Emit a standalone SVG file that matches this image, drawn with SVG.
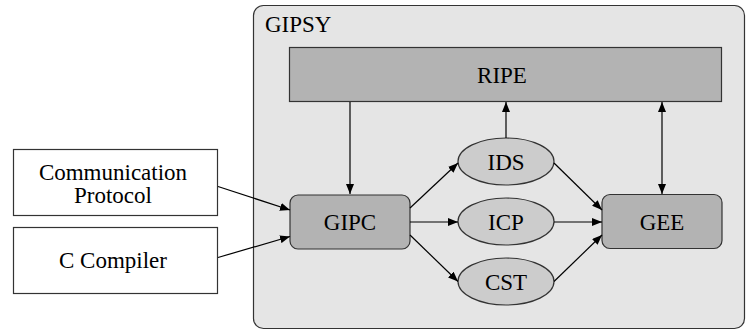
<svg xmlns="http://www.w3.org/2000/svg" width="748" height="331" viewBox="0 0 748 331">
<defs>
<marker id="ah" viewBox="0 0 10 8" refX="10" refY="4" markerWidth="10" markerHeight="8" markerUnits="userSpaceOnUse" orient="auto-start-reverse">
<path d="M0,0 L10,4 L0,8 z" fill="#000"/>
</marker>
<style>
.t{font-family:"Liberation Serif","Times New Roman",Times,Tinos,"Noto Serif","DejaVu Serif",serif;font-size:23px;fill:#000;text-anchor:middle}
.box{fill:#b3b3b3;stroke:#333;stroke-width:1.2}
.ell{fill:#cccccc;stroke:#333;stroke-width:1.2}
.ext{fill:#fff;stroke:#333;stroke-width:1.2}
.c{stroke:#000;stroke-width:1.2;fill:none;marker-end:url(#ah)}
</style>
</defs>
<g id="gipsy">
<rect x="253.5" y="5.5" width="491" height="323" rx="10" fill="#e5e5e5" stroke="#333" stroke-width="1.2"/>
<text class="t" x="265" y="32" style="text-anchor:start">GIPSY</text>
</g>
<g id="ripe">
<rect class="box" x="289.5" y="47.5" width="432" height="54"/>
<text class="t" x="502" y="83">RIPE</text>
</g>
<g id="commproto">
<rect class="ext" x="13.5" y="149.5" width="204" height="66"/>
<text class="t" x="113" y="180">Communication</text>
<text class="t" x="113" y="203">Protocol</text>
</g>
<g id="ccompiler">
<rect class="ext" x="13.5" y="227.5" width="204" height="66"/>
<text class="t" x="113" y="268">C Compiler</text>
</g>
<g id="gipc">
<rect class="box" x="290" y="195" width="120" height="54" rx="8"/>
<text class="t" x="350" y="230">GIPC</text>
</g>
<g id="ids">
<ellipse class="ell" cx="506" cy="161.5" rx="48" ry="23.5"/>
<text class="t" x="506" y="170">IDS</text>
</g>
<g id="icp">
<ellipse class="ell" cx="506" cy="221.5" rx="48" ry="23.5"/>
<text class="t" x="506" y="230">ICP</text>
</g>
<g id="cst">
<ellipse class="ell" cx="506" cy="281.5" rx="48" ry="23.5"/>
<text class="t" x="506" y="290">CST</text>
</g>
<g id="gee">
<rect class="box" x="602" y="194.5" width="120" height="54" rx="8"/>
<text class="t" x="662" y="230">GEE</text>
</g>
<g id="connectors">
<line class="c" x1="350" y1="102" x2="350" y2="194"/>
<line class="c" x1="506" y1="138" x2="506" y2="102"/>
<line class="c" x1="662" y1="102" x2="662" y2="194" style="marker-start:url(#ah)"/>
<line class="c" x1="218" y1="186.5" x2="290" y2="210"/>
<line class="c" x1="218" y1="257.5" x2="290" y2="236.5"/>
<line class="c" x1="410" y1="208" x2="458" y2="163"/>
<line class="c" x1="410" y1="222" x2="458" y2="222"/>
<line class="c" x1="410" y1="235" x2="458" y2="281.5"/>
<line class="c" x1="554" y1="163" x2="602" y2="210"/>
<line class="c" x1="554" y1="222" x2="602" y2="222"/>
<line class="c" x1="554" y1="281.5" x2="602" y2="235"/>
</g>
</svg>
